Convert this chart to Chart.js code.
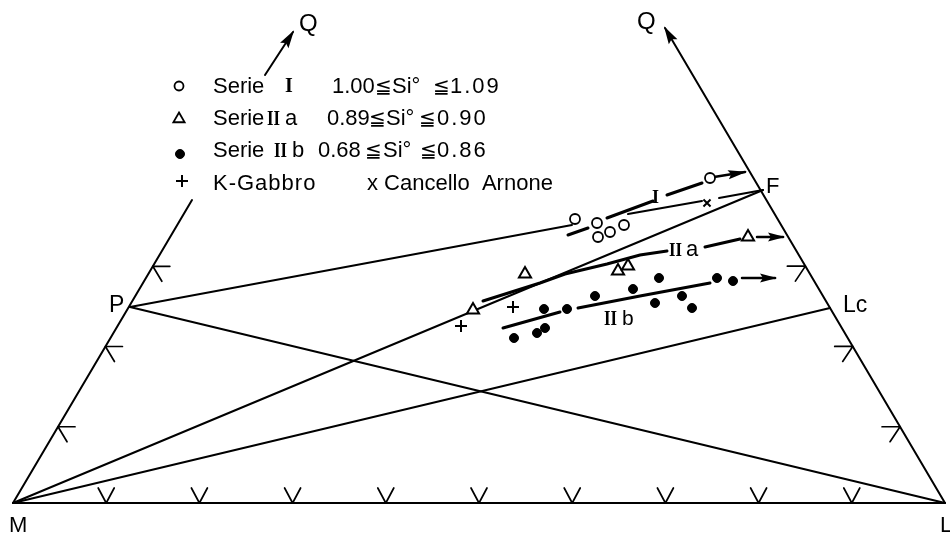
<!DOCTYPE html>
<html>
<head>
<meta charset="utf-8">
<script src="https://cdn.jsdelivr.net/npm/chart.js@4.4.1/dist/chart.umd.min.js"></script>
<style>
  html, body { margin: 0; padding: 0; background: #fff; }
  #wrap { width: 950px; height: 533px; }
</style>
</head>
<body>
<div id="wrap"><canvas id="diagram" width="950" height="533"></canvas></div>
<script>
// corners of the diagram (x to the right, y downwards)
const vertexM = [13, 503];
const vertexL = [945, 503];
const vertexP = [130, 307];
const vertexF = [763, 190];
const vertexLc = [830, 308];
const leftSideTop = [192, 200];
const rightArrowTip = [665, 28];
const leftArrow = [[265, 75], [293, 32]];

// ticks as fractions of the side M-L
const bottomTicks = [0.1, 0.2, 0.3, 0.4, 0.5, 0.6, 0.7, 0.8, 0.9];
const sideTicks = [0.095, 0.195, 0.295];

// samples
const serieI = [[575, 219], [597, 223], [598, 237], [610, 232], [624, 225], [710, 178]];
const serieIIa = [[473, 310], [525, 274], [618, 271], [628, 266], [748, 237]];
const serieIIb = [[514, 338], [537, 333], [545, 328], [544, 309], [567, 309], [595, 296], [633, 289],
  [659, 278], [655, 303], [682, 296], [692, 308], [717, 278], [733, 281]];
const kGabbro = [[461, 326], [513, 307]];
const cancelloArnone = [[707, 203]];

// trends of the series
const trendI = [[[568, 235], [588, 228]], [[607, 218], [653, 201]], [[667, 195], [702, 183]]];
const trendIArrow = [[714, 177], [745, 172]];
const trendIIa = [[[483, 301], [540, 283], [565, 274], [607, 264], [640, 255], [667, 251]], [[705, 247], [740, 239]]];
const trendIIaArrow = [[757, 237], [783, 237]];
const trendIIb = [[[503, 328], [560, 312]], [[578, 308], [640, 296], [710, 283]]];
const trendIIbArrow = [[742, 278], [775, 278]];

// construction lines
const frameLines = [
  [vertexM, vertexL],
  [vertexM, leftSideTop],
  [vertexP, vertexL],
  [vertexM, vertexLc],
  [vertexM, vertexF],
  [vertexP, [572, 225]],
  [[628, 214], [702, 201]],
  [[719, 198], vertexF]
];
const frameArrows = [[vertexL, rightArrowTip], leftArrow];

const SANS = '"Liberation Sans", Arial, sans-serif';
const SERIF = '"Liberation Serif", "Times New Roman", serif';
const SYM = '"DejaVu Sans", sans-serif';

const texts = [
  { t: 'Q', x: 299, y: 31, font: '24px ' + SANS },
  { t: 'Q', x: 637, y: 29, font: '24px ' + SANS },
  { t: 'F', x: 766, y: 193, font: '22px ' + SANS },
  { t: 'P', x: 109, y: 312, font: '23px ' + SANS },
  { t: 'Lc', x: 843, y: 312, font: '23px ' + SANS },
  { t: 'M', x: 9, y: 532, font: '22px ' + SANS },
  { t: 'L', x: 940, y: 532, font: '22px ' + SANS },
  // legend
  { t: 'Serie', x: 213, y: 93, font: '22px ' + SANS },
  { t: 'I', x: 285, y: 92, font: 'bold 20px ' + SERIF },
  { t: '1.00', x: 332, y: 93, font: '22px ' + SANS },
  { t: '≦', x: 375, y: 93, font: '20px ' + SYM },
  { t: 'Si°', x: 392, y: 93, font: '22px ' + SANS },
  { t: '≦', x: 433, y: 93, font: '20px ' + SYM },
  { t: '1.09', x: 450, y: 93, font: '22px ' + SANS, sp: 2 },
  { t: 'Serie', x: 213, y: 125, font: '22px ' + SANS },
  { t: 'II', x: 267, y: 125, font: 'bold 22px ' + SERIF, w: 13 },
  { t: 'a', x: 285, y: 125, font: '22px ' + SANS },
  { t: '0.89', x: 327, y: 125, font: '22px ' + SANS },
  { t: '≦', x: 369, y: 125, font: '20px ' + SYM },
  { t: 'Si°', x: 386, y: 125, font: '22px ' + SANS },
  { t: '≦', x: 419, y: 125, font: '20px ' + SYM },
  { t: '0.90', x: 437, y: 125, font: '22px ' + SANS, sp: 2 },
  { t: 'Serie', x: 213, y: 157, font: '22px ' + SANS },
  { t: 'II', x: 274, y: 157, font: 'bold 22px ' + SERIF, w: 13 },
  { t: 'b', x: 292, y: 157, font: '22px ' + SANS },
  { t: '0.68', x: 318, y: 157, font: '22px ' + SANS },
  { t: '≦', x: 365, y: 157, font: '20px ' + SYM },
  { t: 'Si°', x: 383, y: 157, font: '22px ' + SANS },
  { t: '≦', x: 420, y: 157, font: '20px ' + SYM },
  { t: '0.86', x: 437, y: 157, font: '22px ' + SANS, sp: 2 },
  { t: 'K-Gabbro', x: 213, y: 190, font: '22px ' + SANS, sp: 1 },
  { t: 'x Cancello  Arnone', x: 367, y: 190, font: '22px ' + SANS },
  // trend labels
  { t: 'I', x: 652, y: 203, font: 'bold 18px ' + SERIF },
  { t: 'II', x: 669, y: 256, font: 'bold 19px ' + SERIF, w: 13 },
  { t: 'a', x: 686, y: 256, font: '22px ' + SANS },
  { t: 'II', x: 604, y: 325, font: 'bold 22px ' + SERIF, w: 13 },
  { t: 'b', x: 622, y: 325, font: '21px ' + SANS }
];

const legendMarks = [
  { x: 179, y: 86, style: { pointStyle: 'circle', radius: 4.5, borderWidth: 1.8 }, fill: '#fff' },
  { x: 179, y: 119, style: { pointStyle: 'triangle', radius: 6.5, borderWidth: 1.8 }, fill: '#fff' },
  { x: 180, y: 154, style: { pointStyle: 'circle', radius: 4.5, borderWidth: 1 }, fill: '#000' },
  { x: 182, y: 181, style: { pointStyle: 'cross', radius: 6, borderWidth: 2 }, fill: '#000' }
];

const xy = pts => pts.map(p => ({ x: p[0], y: p[1] }));

function lineSet(pts, width, arrow) {
  return {
    data: xy(pts), showLine: true, pointRadius: 0, borderColor: '#000', borderWidth: width,
    borderCapStyle: 'round', arrow: arrow || null
  };
}

const datasets = [
  { data: xy(serieIIb), pointStyle: 'circle', pointRadius: 4.5, pointBackgroundColor: '#000', pointBorderColor: '#000', pointBorderWidth: 1 },
  { data: xy(serieI), pointStyle: 'circle', pointRadius: 5, pointBackgroundColor: '#fff', pointBorderColor: '#000', pointBorderWidth: 1.8 },
  { data: xy(serieIIa), pointStyle: 'triangle', pointRadius: 7, pointBackgroundColor: '#fff', pointBorderColor: '#000', pointBorderWidth: 2 },
  { data: xy(kGabbro), pointStyle: 'cross', pointRadius: 6, pointBorderColor: '#000', pointBorderWidth: 2 },
  { data: xy(cancelloArnone), pointStyle: 'crossRot', pointRadius: 5, pointBorderColor: '#000', pointBorderWidth: 2 }
];
trendI.forEach(s => datasets.push(lineSet(s, 3)));
trendIIa.forEach(s => datasets.push(lineSet(s, 3)));
trendIIb.forEach(s => datasets.push(lineSet(s, 3)));
datasets.push(lineSet(trendIArrow, 2.5, { len: 17, half: 4.5 }));
datasets.push(lineSet(trendIIaArrow, 2.5, { len: 15, half: 4.5 }));
datasets.push(lineSet(trendIIbArrow, 2.5, { len: 15, half: 4.5 }));
frameLines.forEach(s => datasets.push(lineSet(s, 2)));
frameArrows.forEach(s => datasets.push(lineSet(s, 2, { len: 16, half: 5 })));

// filled arrow heads at the end of lines flagged with "arrow"
const arrowHeads = {
  id: 'arrowHeads',
  afterDatasetsDraw(chart) {
    const ctx = chart.ctx;
    chart.data.datasets.forEach((ds, i) => {
      if (!ds.arrow) return;
      const pts = chart.getDatasetMeta(i).data;
      const a = pts[pts.length - 2], b = pts[pts.length - 1];
      const ang = Math.atan2(b.y - a.y, b.x - a.x);
      const { len, half } = ds.arrow;
      ctx.save();
      ctx.translate(b.x, b.y);
      ctx.rotate(ang);
      ctx.beginPath();
      ctx.moveTo(2, 0);
      ctx.lineTo(-len, -half);
      ctx.lineTo(-len + 3, 0);
      ctx.lineTo(-len, half);
      ctx.closePath();
      ctx.fillStyle = '#000';
      ctx.fill();
      ctx.restore();
    });
  }
};

// little tick marks along the three sides
const sideMarks = {
  id: 'sideMarks',
  afterDatasetsDraw(chart) {
    const { ctx, scales: { x, y } } = chart;
    const side = Math.hypot(vertexL[0] - vertexM[0], vertexL[1] - vertexM[1]);
    const unit = (a, b) => { const d = Math.hypot(b[0] - a[0], b[1] - a[1]); return [(b[0] - a[0]) / d, (b[1] - a[1]) / d]; };
    const draw = (base, arms) => {
      const bx = x.getPixelForValue(base[0]), by = y.getPixelForValue(base[1]);
      ctx.beginPath();
      arms.forEach(a => { ctx.moveTo(bx, by); ctx.lineTo(bx + a[0], by + a[1]); });
      ctx.stroke();
    };
    ctx.save();
    ctx.strokeStyle = '#000';
    ctx.lineWidth = 1.7;
    ctx.lineCap = 'round';
    bottomTicks.forEach(f => draw([vertexM[0] + f * (vertexL[0] - vertexM[0]), vertexM[1]], [[-8, -15], [8, -15]]));
    const uL = unit(vertexM, leftSideTop), uR = unit(vertexL, rightArrowTip);
    sideTicks.forEach(f => {
      draw([vertexM[0] + f * side * uL[0], vertexM[1] + f * side * uL[1]], [[17, 0], [9, 15]]);
      draw([vertexL[0] + f * side * uR[0], vertexL[1] + f * side * uR[1]], [[-18, 0], [-10, 15]]);
    });
    ctx.restore();
  }
};

// labels and the legend block
const textLayer = {
  id: 'textLayer',
  afterDraw(chart) {
    const { ctx, scales: { x, y } } = chart;
    ctx.save();
    ctx.fillStyle = '#000';
    ctx.textBaseline = 'alphabetic';
    ctx.textAlign = 'left';
    texts.forEach(l => {
      ctx.font = l.font;
      ctx.letterSpacing = (l.sp || 0) + 'px';
      const px = x.getPixelForValue(l.x), py = y.getPixelForValue(l.y);
      if (l.w) ctx.fillText(l.t, px, py, l.w); else ctx.fillText(l.t, px, py);
    });
    ctx.letterSpacing = '0px';
    ctx.strokeStyle = '#000';
    legendMarks.forEach(m => {
      ctx.fillStyle = m.fill;
      ctx.lineWidth = m.style.borderWidth;
      Chart.helpers.drawPoint(ctx, m.style, x.getPixelForValue(m.x), y.getPixelForValue(m.y));
    });
    ctx.restore();
  }
};

new Chart(document.getElementById('diagram'), {
  type: 'scatter',
  data: { datasets },
  options: {
    responsive: false,
    animation: false,
    layout: { padding: 0, autoPadding: false },
    plugins: { legend: { display: false }, tooltip: { enabled: false } },
    scales: {
      x: { type: 'linear', min: 0, max: 950, display: false },
      y: { type: 'linear', min: 0, max: 533, reverse: true, display: false }
    }
  },
  plugins: [arrowHeads, sideMarks, textLayer]
});
</script>
</body>
</html>
